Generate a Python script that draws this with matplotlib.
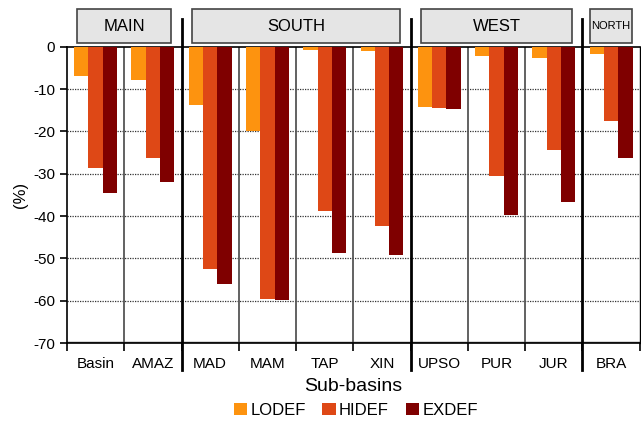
import matplotlib
matplotlib.use("Agg")
import matplotlib.pyplot as plt
import numpy as np
from matplotlib.patches import Rectangle

plt.rcParams['font.family'] = ['Liberation Sans', 'DejaVu Sans']
plt.rcParams['axes.unicode_minus'] = False

subbasins = ["Basin", "AMAZ", "MAD", "MAM", "TAP", "XIN", "UPSO", "PUR", "JUR", "BRA"]
regions = ["MAIN", "SOUTH", "WEST", "NORTH"]
region_sizes = [2, 4, 3, 1]
series = ["LODEF", "HIDEF", "EXDEF"]
lodef = [-6.9, -7.9, -13.8, -19.9, -0.8, -1.0, -14.2, -2.1, -2.6, -1.6]
hidef = [-28.6, -26.2, -52.4, -59.6, -38.8, -42.4, -14.5, -30.5, -24.4, -17.5]
exdef = [-34.5, -32.0, -56.0, -59.8, -48.7, -49.2, -14.7, -39.8, -36.7, -26.3]
colors = ["#fd930f", "#de4816", "#7f0000"]

fig = plt.figure(figsize=(6.41, 4.22), dpi=100)
ax = fig.add_axes([0.1045, 0.187, 0.8935, 0.702])

x = np.arange(len(subbasins)) + 0.5
w = 0.25
for i, (name, vals) in enumerate(zip(series, [lodef, hidef, exdef])):
    ax.bar(x + (i - 1) * w, vals, width=w, color=colors[i], label=name, zorder=3)

ax.set_xlim(0, len(subbasins))
ax.set_ylim(-70, 0)
ax.set_yticks(np.arange(-70, 1, 10))
ax.set_yticklabels([str(v) for v in range(-70, 1, 10)], fontsize=11)
ax.set_xticks(x)
ax.set_xticklabels(subbasins, fontsize=11)
ax.tick_params(axis='x', which='major', length=0, pad=10)
ax.set_xticks(np.arange(0, len(subbasins) + 1), minor=True)
ax.tick_params(axis='x', which='minor', length=6, width=1.2, direction='out')
ax.tick_params(axis='y', length=5, width=1.2, direction='out')

for v in range(-60, 0, 10):
    ax.axhline(v, color='#333333', linestyle=(0, (1, 1)), linewidth=0.9, zorder=1)
ax.axhline(-70, color='#555555', linewidth=2.5, zorder=1)

for s in ax.spines.values():
    s.set_color('black')
    s.set_linewidth(1.2)
ax.spines['right'].set_linewidth(1.0)

# separators between sub-basins and regions
bounds = np.cumsum(region_sizes)
for b in range(1, len(subbasins)):
    if b in bounds:
        ax.plot([b, b], [6.5, -76.4], color='black', linewidth=2, clip_on=False, zorder=4)
    else:
        ax.axvline(b, color='#555555', linewidth=1.3, zorder=2)

# region header boxes
start = 0
for name, n in zip(regions, region_sizes):
    m = 0.13 if n == 1 else 0.18
    ax.add_patch(Rectangle((start + m, 0.9), n - 2 * m, 8.0, facecolor='#e5e5e5',
                           edgecolor='#444444', linewidth=1.2, clip_on=False))
    ax.text(start + n / 2, 4.9, name, ha='center', va='center',
            fontsize=8 if n == 1 else 12)
    start += n

ax.set_ylabel("(%)", fontsize=12, labelpad=4)
ax.set_xlabel("Sub-basins", fontsize=14, labelpad=5)

fig.legend(loc='center', bbox_to_anchor=(0.555, 0.028), ncol=3, frameon=False,
           fontsize=12, handlelength=0.8, handleheight=0.8, handletextpad=0.2,
           columnspacing=1.0)

fig.savefig("out.png", dpi=100)
